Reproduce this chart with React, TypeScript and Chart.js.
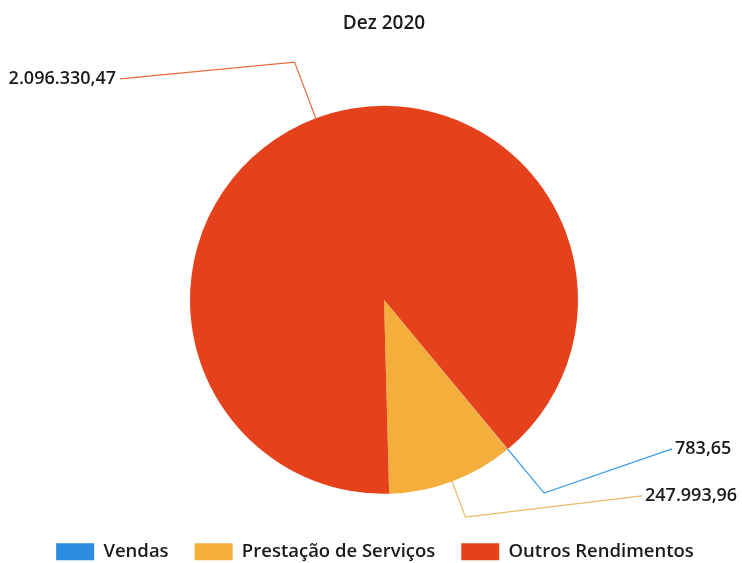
import React, { useEffect, useRef } from "react";
import { Chart, registerables } from "chart.js";

Chart.register(...registerables);

const chartTitle = "Dez 2020";
const categories = ["Vendas", "Prestação de Serviços", "Outros Rendimentos"];
const values = [783.65, 247993.96, 2096330.47];
const valueLabels = ["783,65", "247.993,96", "2.096.330,47"];
const sliceColors = ["#2A8DDF", "#F4AE3B", "#E5421C"];
const leaderColors = ["#3E9DE6", "#E8BA6A", "#E86A42"];

// leader-line layout: radial extension, label anchor relative to pie centre, text alignment
const leaderExt = [57, 38, 60];
const labelOffsetX = [288, 258, -264];
const labelOffsetY = [149, 196, -221];
const labelAlign: CanvasTextAlign[] = ["left", "left", "right"];

const FONT = "'Open Sans', 'Noto Sans', sans-serif";
const TEXT = "#1a1a1a";
const WEIGHT = "600";

const leaderPlugin = {
  id: "leaders",
  afterLayout(chart: any) {
    // nudge the legend row slightly left, as in the reference
    if (chart.legend) {
      chart.legend.left -= 9;
      chart.legend.right -= 9;
    }
  },
  afterDatasetsDraw(chart: any) {
    const ctx = chart.ctx;
    const meta = chart.getDatasetMeta(0);
    ctx.save();
    meta.data.forEach((arc: any, i: number) => {
      const { x, y, startAngle, endAngle, outerRadius } = arc.getProps(
        ["x", "y", "startAngle", "endAngle", "outerRadius"],
        true
      );
      const mid = (startAngle + endAngle) / 2;
      const ax = x + Math.cos(mid) * outerRadius;
      const ay = y + Math.sin(mid) * outerRadius;
      const ex = x + Math.cos(mid) * (outerRadius + leaderExt[i]);
      const ey = y + Math.sin(mid) * (outerRadius + leaderExt[i]);
      const lx = x + labelOffsetX[i];
      const ly = y + labelOffsetY[i];
      ctx.beginPath();
      ctx.moveTo(ax, ay);
      ctx.lineTo(ex, ey);
      ctx.lineTo(lx, ly);
      ctx.strokeStyle = leaderColors[i];
      ctx.lineWidth = 1.2;
      ctx.stroke();
      ctx.font = `${WEIGHT} 18px ${FONT}`;
      ctx.fillStyle = TEXT;
      ctx.textBaseline = "middle";
      ctx.textAlign = labelAlign[i];
      ctx.fillText(valueLabels[i], lx + (labelAlign[i] === "left" ? 3 : -4), ly);
    });
    ctx.restore();
  },
};

export default function App() {
  const canvasRef = useRef<HTMLCanvasElement | null>(null);

  useEffect(() => {
    if (!canvasRef.current) return;
    const chart = new Chart(canvasRef.current, {
      type: "pie",
      data: {
        labels: categories,
        datasets: [
          {
            data: values,
            backgroundColor: sliceColors,
            borderWidth: 0,
            radius: 194,
          } as any,
        ],
      },
      options: {
        responsive: false,
        animation: false,
        rotation: 140.3,
        layout: { padding: { left: 26, right: 0, top: 0, bottom: -8.1 } },
        plugins: {
          title: {
            display: true,
            text: chartTitle,
            color: TEXT,
            font: { family: FONT, size: 19, weight: WEIGHT as any },
            padding: { top: 12, bottom: 48.3 },
          },
          legend: {
            position: "bottom",
            labels: {
              boxWidth: 38,
              boxHeight: 17,
              padding: 26,
              color: TEXT,
              font: { family: FONT, size: 18.5, weight: WEIGHT as any },
            },
          },
          tooltip: { enabled: false },
        },
      },
      plugins: [leaderPlugin],
    });
    return () => chart.destroy();
  }, []);

  return (
    <div style={{ position: "fixed", left: 0, top: 0, width: 742, height: 563, background: "#fff" }}>
      <canvas ref={canvasRef} width={742} height={563} />
    </div>
  );
}
